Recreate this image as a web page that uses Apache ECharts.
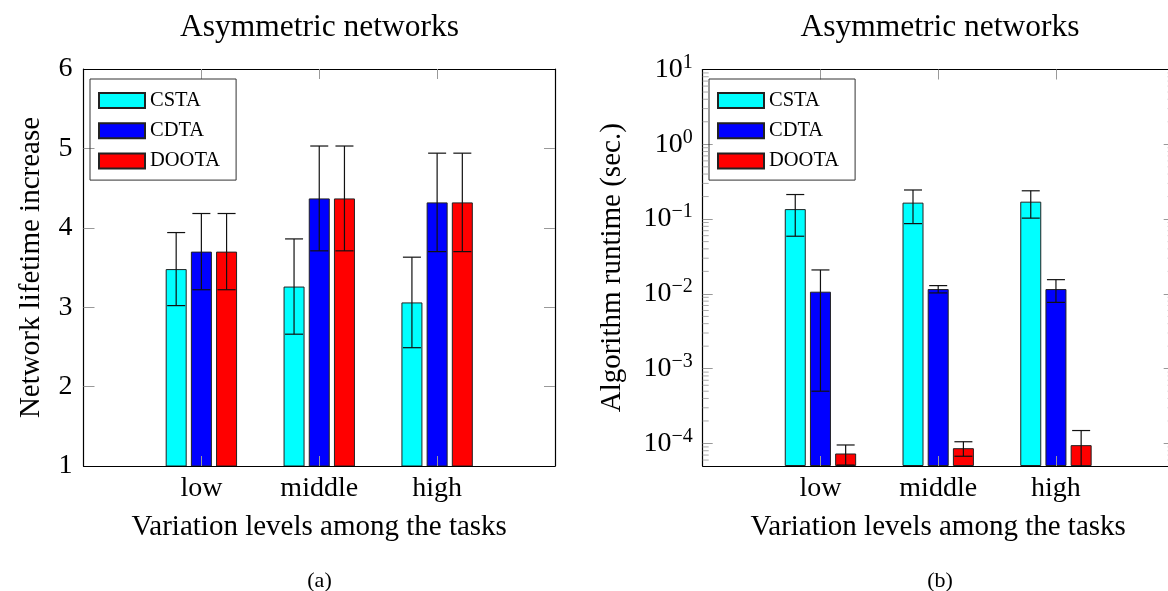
<!DOCTYPE html>
<html><head><meta charset="utf-8">
<script src="https://cdn.jsdelivr.net/npm/echarts@6/dist/echarts.min.js"></script>
<style>html,body{margin:0;padding:0;background:#fff}#c{width:1168px;height:591px}</style>
</head><body><div id="c"></div>
<script>
// ---------- data ----------
const categories = ['low', 'middle', 'high'];
const seriesNames = ['CSTA', 'CDTA', 'DOOTA'];
const seriesColors = ['#00ffff', '#0000ff', '#ff0000'];

// (a) Network lifetime increase
const lifetimeCSTA  = [3.48, 3.26, 3.06];
const lifetimeCDTA  = [3.70, 4.37, 4.32];
const lifetimeDOOTA = [3.70, 4.37, 4.32];
const lifetimeErrCSTA  = [0.46, 0.60, 0.57];
const lifetimeErrCDTA  = [0.48, 0.66, 0.62];
const lifetimeErrDOOTA = [0.48, 0.66, 0.62];

// (b) Algorithm runtime (sec.)
const runtimeCSTA  = [0.136, 0.166, 0.171];
const runtimeCDTA  = [0.0107, 0.0116, 0.0116];
const runtimeDOOTA = [7.35e-5, 8.65e-5, 9.5e-5];
const runtimeErrCSTA  = [0.077, 0.079, 0.068];
const runtimeErrCDTA  = [0.0102, 0.0013, 0.0039];
const runtimeErrDOOTA = [2.2e-5, 1.9e-5, 5.4e-5];

const lifetimeAxis = { min: 1, max: 6, interval: 1 };
const runtimeAxis = { min: 5e-5, max: 10 };

// ---------- helpers ----------
const FONT = '"Liberation Serif", "DejaVu Serif", serif';
const BAR_W = 21, BAR_GAP = 0.2;
const axisCats = [''].concat(categories, ['']);
const tickInterval = (i, v) => v !== '';

const lifetimeVals = [lifetimeCSTA, lifetimeCDTA, lifetimeDOOTA];
const lifetimeErrs = [lifetimeErrCSTA, lifetimeErrCDTA, lifetimeErrDOOTA];
const runtimeVals = [runtimeCSTA, runtimeCDTA, runtimeDOOTA];
const runtimeErrs = [runtimeErrCSTA, runtimeErrCDTA, runtimeErrDOOTA];

function padded(arr) { return ['-'].concat(arr, ['-']); }
function errData(vals, errs) {
  const out = [];
  vals.forEach((arr, k) => arr.forEach((v, i) => out.push([i + 1, v - errs[k][i], v + errs[k][i], k])));
  return out;
}
function errRender(params, api) {
  const x = api.value(0), lo = api.value(1), hi = api.value(2), k = api.value(3);
  const off = (k - 1) * BAR_W * (1 + BAR_GAP);
  const cs = params.coordSys;
  const pHi = api.coord([x, hi]);
  const pLo = api.coord([x, lo]);
  const cx = pHi[0] + off;
  const bottom = cs.y + cs.height;
  let yLo = pLo[1];
  const clipped = !(yLo <= bottom);
  if (clipped) yLo = bottom;
  const st = { stroke: '#111', lineWidth: 1.2 };
  const children = [
    { type: 'line', shape: { x1: cx, y1: pHi[1], x2: cx, y2: yLo }, style: st },
    { type: 'line', shape: { x1: cx - 9, y1: pHi[1], x2: cx + 9, y2: pHi[1] }, style: st }
  ];
  if (!clipped) children.push({ type: 'line', shape: { x1: cx - 9, y1: yLo, x2: cx + 9, y2: yLo }, style: st });
  return { type: 'group', children };
}
// minor log ticks (2..9 x 10^k) inside the plot frame
const minorLogTicks = [];
for (let e = -5; e <= 0; e++) for (let m = 2; m <= 9; m++) {
  const v = m * Math.pow(10, e);
  if (v > runtimeAxis.min && v < runtimeAxis.max) minorLogTicks.push([1, v]);
}
function minorRender(params, api) {
  const cs = params.coordSys;
  const y = api.coord([1, api.value(1)])[1];
  const st = { stroke: '#aaa', lineWidth: 1 };
  return { type: 'group', children: [
    { type: 'line', shape: { x1: cs.x, y1: y, x2: cs.x + 6, y2: y }, style: st },
    { type: 'line', shape: { x1: cs.x + cs.width - 6, y1: y, x2: cs.x + cs.width, y2: y }, style: st }
  ]};
}

const lineStyle = { color: '#000', width: 1.2 };
const tickStyle = (len) => ({ show: true, inside: true, length: len, lineStyle: { color: '#999', width: 1 } });

function xAxes(grid, bottomName) {
  return [
    { type: 'category', gridIndex: grid, position: 'bottom', data: axisCats, boundaryGap: false, z: 3,
      axisLine: { lineStyle }, axisTick: Object.assign(tickStyle(10), { interval: tickInterval }),
      axisLabel: { fontFamily: FONT, fontSize: 28, color: '#000', margin: 9, interval: 0 },
      splitLine: { show: false },
      name: bottomName, nameLocation: 'middle', nameGap: 47,
      nameTextStyle: { fontFamily: FONT, fontSize: 29, color: '#000' } },
    { type: 'category', gridIndex: grid, position: 'top', data: axisCats, boundaryGap: false, z: 3,
      axisLine: { lineStyle }, axisTick: Object.assign(tickStyle(10), { interval: tickInterval }),
      axisLabel: { show: false }, splitLine: { show: false } }
  ];
}

function logLabel(v) {
  const e = Math.log10(v);
  const r = Math.round(e);
  if (Math.abs(e - r) > 1e-6) return '';
  return '10{s|' + (r < 0 ? '\u2212' + (-r) : String(r)) + '}';
}

const legendBase = {
  top: 79, orient: 'vertical', data: seriesNames, icon: 'rect',
  itemWidth: 46, itemHeight: 15, itemGap: 9.3, selectedMode: false,
  padding: [11, 16, 8.5, 8], borderColor: '#333', borderWidth: 1,
  textStyle: { fontFamily: FONT, fontSize: 20.5, color: '#000' }
};
const titleStyle = (size) => ({ fontFamily: FONT, fontSize: size, fontWeight: 'normal', color: '#000' });

const option = {
  animation: false,
  backgroundColor: '#fff',
  textStyle: { fontFamily: FONT },
  title: [
    { text: 'Asymmetric networks', left: 314.5, top: 7, textAlign: 'center', textStyle: titleStyle(31.5) },
    { text: 'Asymmetric networks', left: 935, top: 7, textAlign: 'center', textStyle: titleStyle(31.5) },
    { text: '(a)', left: 314.5, top: 565, textAlign: 'center', textStyle: titleStyle(22) },
    { text: '(b)', left: 935, top: 565, textAlign: 'center', textStyle: titleStyle(22) }
  ],
  legend: [
    Object.assign({ left: 90 }, legendBase),
    Object.assign({ left: 709 }, legendBase)
  ],
  grid: [
    { left: 83.5, top: 69, width: 471.5, height: 397, outerBoundsMode: 'none', containLabel: false },
    { left: 702.7, top: 69.5, width: 471, height: 396.5, outerBoundsMode: 'none', containLabel: false }
  ],
  xAxis: xAxes(0, 'Variation levels among the tasks').concat(xAxes(1, 'Variation levels among the tasks')),
  yAxis: [
    { type: 'value', gridIndex: 0, position: 'left', min: lifetimeAxis.min, max: lifetimeAxis.max, interval: lifetimeAxis.interval,
      axisLine: { show: true, lineStyle }, axisTick: tickStyle(11), splitLine: { show: false },
      axisLabel: { fontFamily: FONT, fontSize: 28, color: '#000', margin: 11 },
      name: 'Network lifetime increase', nameLocation: 'middle', nameGap: 38,
      nameTextStyle: { fontFamily: FONT, fontSize: 29, color: '#000' } },
    { type: 'value', gridIndex: 0, position: 'right', min: lifetimeAxis.min, max: lifetimeAxis.max, interval: lifetimeAxis.interval,
      axisLine: { show: true, lineStyle }, axisTick: tickStyle(11), splitLine: { show: false },
      axisLabel: { show: false } },
    { type: 'log', logBase: 10, gridIndex: 1, position: 'left', min: runtimeAxis.min, max: runtimeAxis.max,
      startValue: runtimeAxis.min,
      axisLine: { show: true, lineStyle }, axisTick: tickStyle(10), splitLine: { show: false },
      axisLabel: { fontFamily: FONT, fontSize: 28, color: '#000', margin: 10, formatter: logLabel,
        rich: { s: { fontFamily: FONT, fontSize: 20, color: '#000', padding: [0, 0, 14, 0] } } },
      name: 'Algorithm runtime (sec.)', nameLocation: 'middle', nameGap: 76,
      nameTextStyle: { fontFamily: FONT, fontSize: 29, color: '#000' } },
    { type: 'log', logBase: 10, gridIndex: 1, position: 'right', min: runtimeAxis.min, max: runtimeAxis.max,
      axisLine: { show: true, lineStyle }, axisTick: tickStyle(10), splitLine: { show: false },
      axisLabel: { show: false } }
  ],
  series: []
};

seriesNames.forEach((name, k) => {
  option.series.push({ type: 'bar', name, xAxisIndex: 0, yAxisIndex: 0, data: padded(lifetimeVals[k]),
    barWidth: BAR_W, barGap: (BAR_GAP * 100) + '%',
    itemStyle: { color: seriesColors[k], borderColor: '#222', borderWidth: 1 } });
});
seriesNames.forEach((name, k) => {
  option.series.push({ type: 'bar', name, xAxisIndex: 2, yAxisIndex: 2, data: padded(runtimeVals[k]),
    barWidth: BAR_W, barGap: (BAR_GAP * 100) + '%',
    itemStyle: { color: seriesColors[k], borderColor: '#222', borderWidth: 1 } });
});
option.series.push({ type: 'custom', name: 'err-a', xAxisIndex: 0, yAxisIndex: 0, z: 5,
  data: errData(lifetimeVals, lifetimeErrs), encode: { x: 0, y: [1, 2] }, renderItem: errRender, silent: true });
option.series.push({ type: 'custom', name: 'err-b', xAxisIndex: 2, yAxisIndex: 2, z: 5,
  data: errData(runtimeVals, runtimeErrs), encode: { x: 0, y: [1, 2] }, renderItem: errRender, silent: true });
option.series.push({ type: 'custom', name: 'minor', xAxisIndex: 2, yAxisIndex: 2, z: 6,
  data: minorLogTicks, encode: { x: 0, y: 1 }, renderItem: minorRender, silent: true });

const chart = echarts.init(document.getElementById('c'), null, { renderer: 'canvas' });
chart.setOption(option);
</script>
</body></html>
